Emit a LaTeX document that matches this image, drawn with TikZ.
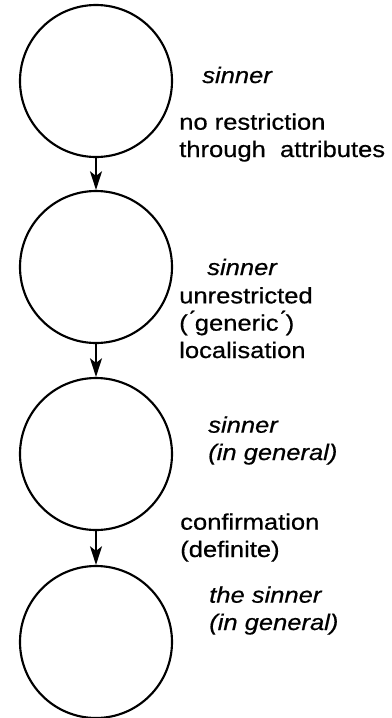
\documentclass[tikz,border=0pt]{standalone}
\usepackage{fontspec}
\setmainfont[FakeStretch=1.14,FakeBold=0.6]{Liberation Sans}
\usepackage{tikz}
\usetikzlibrary{arrows.meta,positioning,calc}
\tikzset{
  cnode/.style={circle,draw,line width=1.6pt,minimum size=114pt,inner sep=0pt},
  lbl/.style={anchor=base west,inner sep=0pt,align=left,font=\fontsize{16.8pt}{20.5pt}\selectfont},
  ilbl/.style={lbl,font=\fontsize{16.8pt}{20.5pt}\selectfont\itshape},
  de/.style={-{Stealth[length=14pt,width=9pt,inset=3.5pt]},line width=1.5pt}
}
\begin{document}
\begin{tikzpicture}[x=0.75pt,y=-0.75pt]
\useasboundingbox (0,0) rectangle (392,718);
\node[cnode] (sin1) at (96,81) {};
\node[cnode] (sin2) at (96,267) {};
\node[cnode] (gen) at (96,454) {};
\node[cnode] (def) at (96,642) {};
\draw[de] (sin1) -- (sin2);
\draw[de] (sin2) -- (gen);
\draw[de] (gen) -- (def);
\node[ilbl] (t1) at (202,83) {sinner};
\node[lbl] (r1) at (179,157) {no restriction\\through\ \ attributes};
\node[ilbl] (t2) at (207,275) {sinner};
\node[lbl] (r2) at (179,358) {unrestricted\\(\'{}generic\'{})\\localisation};
\node[ilbl] (t3) at (208,460) {sinner\\(in general)};
\node[lbl] (r3) at (180,557) {confirmation\\(definite)};
\node[ilbl] (t4) at (209,630) {the sinner\\(in general)};
\end{tikzpicture}
\end{document}
